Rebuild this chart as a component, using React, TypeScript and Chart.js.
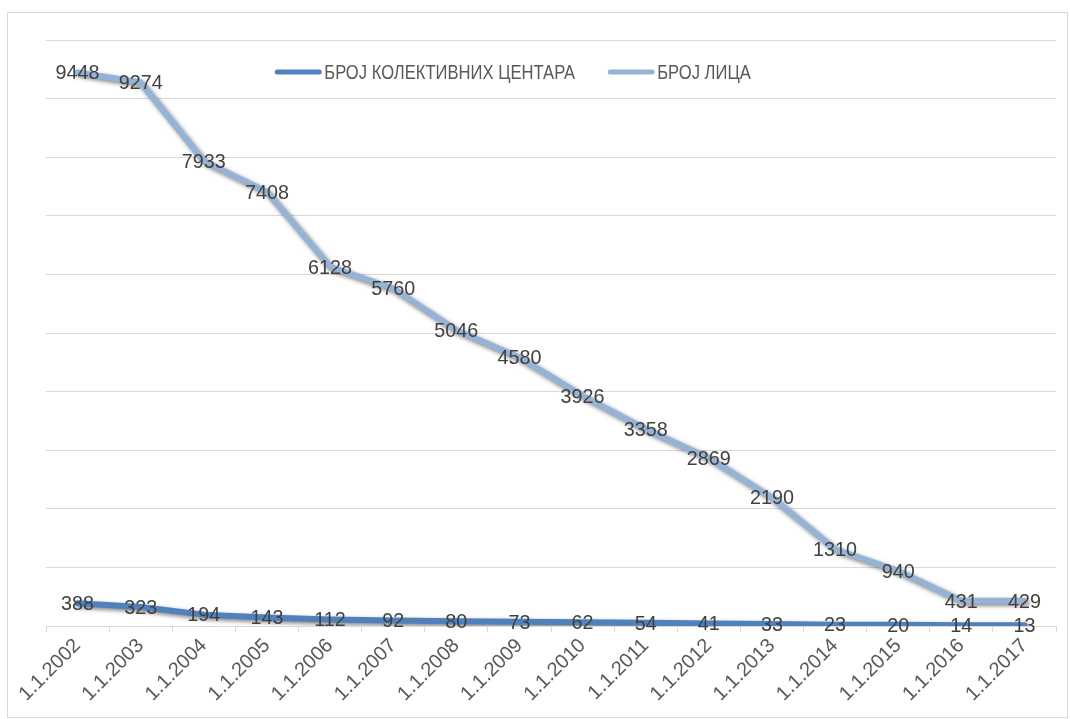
import React, { useEffect, useRef } from "react";
import { Chart, registerables } from "chart.js";

Chart.register(...registerables);

const categories = [
  "1.1.2002", "1.1.2003", "1.1.2004", "1.1.2005", "1.1.2006", "1.1.2007",
  "1.1.2008", "1.1.2009", "1.1.2010", "1.1.2011", "1.1.2012", "1.1.2013",
  "1.1.2014", "1.1.2015", "1.1.2016", "1.1.2017",
];
const centersLabel = "БРОЈ КОЛЕКТИВНИХ ЦЕНТАРА";
const centers = [388, 323, 194, 143, 112, 92, 80, 73, 62, 54, 41, 33, 23, 20, 14, 13];
const personsLabel = "БРОЈ ЛИЦА";
const persons = [9448, 9274, 7933, 7408, 6128, 5760, 5046, 4580, 3926, 3358, 2869, 2190, 1310, 940, 431, 429];

const DARK = "#4F81BD";
const LIGHT = "#95B3D7";
const FONT = "'Liberation Sans', 'DejaVu Sans', sans-serif";

const shadowPlugin = {
  id: "shadowLines",
  beforeDatasetDraw(chart: any) {
    const ctx = chart.ctx;
    ctx.save();
    ctx.shadowColor = "rgba(0,0,0,0.5)";
    ctx.shadowBlur = 4;
    ctx.shadowOffsetX = 2;
    ctx.shadowOffsetY = 2;
  },
  afterDatasetDraw(chart: any) {
    chart.ctx.restore();
  },
};

const labelsPlugin = {
  id: "valueLabels",
  afterDatasetsDraw(chart: any) {
    const ctx = chart.ctx;
    ctx.save();
    ctx.font = `21px ${FONT}`;
    ctx.fillStyle = "#404040";
    ctx.textAlign = "center";
    ctx.textBaseline = "middle";
    chart.data.datasets.forEach((ds: any, i: number) => {
      const meta = chart.getDatasetMeta(i);
      meta.data.forEach((pt: any, j: number) => {
        const t = String(ds.data[j]);
        const w = ctx.measureText(t).width * 0.94;
        ctx.fillText(t, pt.x, pt.y + 1, w);
      });
    });
    ctx.restore();
  },
};

const legendPlugin = {
  id: "customLegend",
  afterDraw(chart: any) {
    const ctx = chart.ctx;
    ctx.save();
    ctx.font = `21px ${FONT}`;
    ctx.textBaseline = "middle";
    ctx.textAlign = "left";
    const squeeze = 0.79;
    const items = chart.data.datasets.map((ds: any) => ({
      text: ds.label,
      color: ds.borderColor,
      w: ctx.measureText(ds.label).width * squeeze,
    }));
    const sample = 46;
    const gap1 = 3;
    const gap2 = 33;
    let total = 0;
    items.forEach((it: any, i: number) => {
      total += sample + gap1 + it.w + (i < items.length - 1 ? gap2 : 0);
    });
    let x = 505 - total / 2;
    const y = 59;
    items.forEach((it: any) => {
      ctx.strokeStyle = it.color;
      ctx.lineWidth = 5;
      ctx.lineCap = "round";
      ctx.beginPath();
      ctx.moveTo(x + 2, y);
      ctx.lineTo(x + sample - 2, y);
      ctx.stroke();
      ctx.fillStyle = "#595959";
      ctx.fillText(it.text, x + sample + gap1, y + 1, it.w);
      x += sample + gap1 + it.w + gap2;
    });
    ctx.restore();
  },
};

export default function App() {
  const ref = useRef<HTMLCanvasElement | null>(null);
  useEffect(() => {
    if (!ref.current) return;
    const chart = new Chart(ref.current, {
      type: "line",
      data: {
        labels: categories,
        datasets: [
          {
            label: centersLabel,
            data: centers,
            borderColor: DARK,
            backgroundColor: DARK,
            borderWidth: 6,
            pointRadius: 0,
            tension: 0,
            borderJoinStyle: "round",
            borderCapStyle: "round",
          },
          {
            label: personsLabel,
            data: persons,
            borderColor: LIGHT,
            backgroundColor: LIGHT,
            borderWidth: 6,
            pointRadius: 0,
            tension: 0,
            borderJoinStyle: "round",
            borderCapStyle: "round",
          },
        ],
      },
      options: {
        responsive: false,
        animation: false,
        layout: { padding: { left: 38, right: 11, top: 27, bottom: 0 } },
        plugins: {
          legend: { display: false },
          tooltip: { enabled: false },
        },
        scales: {
          x: {
            offset: true,
            grid: {
              offset: true,
              drawOnChartArea: false,
              drawTicks: true,
              tickLength: 6,
              color: "#d9d9d9",
            },
            border: { display: true, color: "#d9d9d9", width: 1 },
            ticks: {
              autoSkip: false,
              maxRotation: 45,
              minRotation: 45,
              color: "#595959",
              font: { family: FONT, size: 20 },
              padding: 2,
            },
            afterFit(scale: any) {
              scale.height = 91;
            },
          },
          y: {
            min: 0,
            max: 10000,
            ticks: { display: false, stepSize: 1000 },
            grid: { color: "#d9d9d9", drawTicks: false, lineWidth: 1 },
            border: { display: false },
            afterFit(scale: any) {
              scale.width = 0;
            },
          },
        },
      },
      plugins: [shadowPlugin, labelsPlugin, legendPlugin],
    });
    return () => chart.destroy();
  }, []);
  return (
    <div
      style={{
        position: "absolute",
        left: 7,
        top: 12,
        width: 1061,
        height: 706,
        boxSizing: "border-box",
        border: "1px solid #d9d9d9",
        background: "#fff",
      }}
    >
      <canvas ref={ref} width={1059} height={704} style={{ display: "block" }} />
    </div>
  );
}
